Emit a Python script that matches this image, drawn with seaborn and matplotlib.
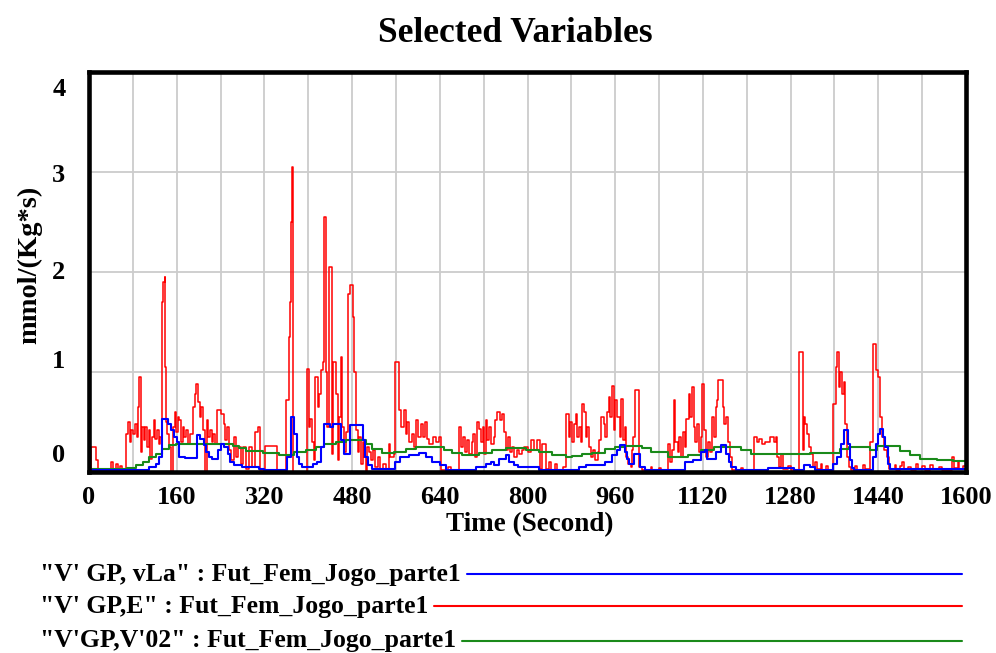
import numpy as np
import pandas as pd
import seaborn as sns
import matplotlib
matplotlib.use("Agg")
import matplotlib.pyplot as plt
from matplotlib.lines import Line2D
from matplotlib.transforms import ScaledTranslation

# ---------------- data (step series, time in seconds) ----------------
red_t = [0, 3, 13, 17, 40, 43, 50, 53, 57, 60, 67, 71, 74, 77, 81, 84, 87, 89, 92, 94,
         97, 100, 103, 106, 109, 112, 115, 118, 121, 124, 127, 130, 133, 135, 138, 139, 141, 143, 146, 149,
         153, 156, 159, 162, 165, 168, 171, 174, 177, 181, 185, 189, 193, 196, 199, 202, 205, 208, 211, 215,
         218, 221, 224, 227, 230, 234, 241, 246, 249, 252, 255, 259, 264, 268, 272, 277, 281, 286, 292, 297,
         303, 308, 312, 322, 343, 359, 364, 366, 368, 371, 373, 398, 401, 404, 407, 410, 413, 417, 420, 423,
         426, 428, 432, 434, 437, 443, 446, 450, 454, 457, 459, 461, 465, 468, 472, 476, 481, 484, 487, 490,
         493, 496, 499, 502, 505, 508, 511, 514, 518, 522, 527, 531, 537, 542, 547, 550, 556, 559, 566, 570,
         574, 578, 581, 584, 589, 593, 597, 601, 605, 609, 613, 617, 621, 627, 633, 639, 642, 655, 660, 675,
         678, 682, 686, 690, 694, 698, 701, 704, 707, 711, 715, 718, 721, 724, 727, 730, 734, 738, 741, 744,
         749, 753, 757, 760, 764, 768, 772, 776, 780, 785, 790, 794, 800, 806, 812, 818, 822, 827, 834, 840,
         843, 850, 853, 865, 871, 875, 878, 882, 885, 888, 891, 894, 897, 900, 903, 906, 909, 912, 916, 920,
         924, 928, 931, 935, 939, 942, 945, 948, 951, 954, 957, 960, 964, 968, 971, 974, 977, 980, 984, 988,
         990, 993, 997, 1004, 1008, 1025, 1028, 1040, 1043, 1056, 1060, 1064, 1067, 1070, 1074, 1077, 1080, 1083, 1087, 1090,
         1094, 1097, 1100, 1103, 1106, 1110, 1113, 1116, 1119, 1122, 1126, 1129, 1133, 1136, 1140, 1143, 1146, 1148, 1156, 1159,
         1163, 1166, 1170, 1174, 1190, 1193, 1214, 1218, 1222, 1228, 1234, 1242, 1250, 1253, 1256, 1258, 1262, 1266, 1276, 1280,
         1295, 1302, 1304, 1307, 1310, 1314, 1317, 1320, 1325, 1328, 1335, 1338, 1345, 1348, 1358, 1362, 1365, 1368, 1371, 1374,
         1377, 1380, 1383, 1386, 1390, 1398, 1402, 1412, 1415, 1425, 1430, 1436, 1440, 1444, 1447, 1450, 1456, 1460, 1470, 1473,
         1480, 1484, 1487, 1495, 1500, 1508, 1512, 1520, 1526, 1535, 1540, 1550, 1556, 1575, 1578, 1585, 1588, 1595, 1600]
red_v = [0.0, 0.25, 0.12, 0.02, 0.1, 0.03, 0.08, 0.02, 0.06, 0.03, 0.38, 0.5, 0.3, 0.42, 0.38, 0.48, 0.35, 0.65, 0.95, 0.2,
         0.45, 0.32, 0.45, 0.25, 0.42, 0.13, 0.35, 0.52, 0.33, 0.42, 0.28, 0.35, 1.7, 1.9, 1.95, 1.05, 0.5, 0.38, 0.25, 0.0,
         0.45, 0.6, 0.4, 0.55, 0.52, 0.3, 0.45, 0.35, 0.42, 0.28, 0.38, 0.65, 0.78, 0.88, 0.7, 0.55, 0.65, 0.42, 0.0, 0.52,
         0.35, 0.42, 0.3, 0.38, 0.28, 0.62, 0.58, 0.48, 0.32, 0.45, 0.22, 0.12, 0.35, 0.15, 0.25, 0.08, 0.25, 0.03, 0.25, 0.05,
         0.4, 0.45, 0.02, 0.26, 0.0, 0.72, 1.35, 1.7, 2.5, 3.05, 0.0, 1.03, 0.45, 0.53, 0.3, 0.12, 0.95, 0.65, 0.78, 1.02,
         1.1, 2.55, 1.0, 0.45, 2.05, 0.18, 1.1, 0.78, 0.12, 0.55, 1.15, 0.45, 0.2, 0.4, 1.78, 1.87, 1.55, 1.0, 0.42, 0.2,
         0.35, 0.08, 0.3, 0.15, 0.0, 0.25, 0.2, 0.12, 0.22, 0.05, 0.15, 0.03, 0.08, 0.03, 0.28, 0.15, 0.18, 1.1, 0.62, 0.45,
         0.62, 0.38, 0.5, 0.3, 0.38, 0.25, 0.52, 0.35, 0.48, 0.35, 0.5, 0.33, 0.28, 0.35, 0.3, 0.35, 0.02, 0.05, 0.02, 0.45,
         0.25, 0.35, 0.2, 0.32, 0.18, 0.3, 0.38, 0.15, 0.5, 0.43, 0.3, 0.45, 0.18, 0.52, 0.32, 0.45, 0.28, 0.35, 0.52, 0.6,
         0.52, 0.58, 0.4, 0.22, 0.35, 0.2, 0.25, 0.15, 0.22, 0.18, 0.22, 0.25, 0.2, 0.32, 0.22, 0.32, 0.03, 0.28, 0.03, 0.1,
         0.02, 0.08, 0.02, 0.05, 0.58, 0.35, 0.5, 0.3, 0.48, 0.58, 0.35, 0.45, 0.3, 0.68, 0.6, 0.35, 0.45, 0.25, 0.15, 0.22,
         0.12, 0.2, 0.32, 0.55, 0.48, 0.35, 0.6, 0.75, 0.55, 0.86, 0.42, 0.72, 0.55, 0.35, 0.73, 0.32, 0.45, 0.15, 0.08, 0.05,
         0.22, 0.35, 0.82, 0.05, 0.02, 0.05, 0.02, 0.04, 0.02, 0.28, 0.1, 0.22, 0.72, 0.3, 0.2, 0.35, 0.15, 0.4, 0.25, 0.53,
         0.78, 0.55, 0.85, 0.45, 0.3, 0.48, 0.2, 0.35, 0.88, 0.42, 0.15, 0.3, 0.2, 0.55, 0.35, 0.65, 0.72, 0.92, 0.65, 0.48,
         0.55, 0.3, 0.15, 0.02, 0.04, 0.02, 0.35, 0.3, 0.33, 0.28, 0.3, 0.35, 0.3, 0.35, 0.15, 0.05, 0.18, 0.03, 0.06, 0.02,
         1.2, 0.22, 0.55, 0.48, 0.38, 0.25, 0.18, 0.05, 0.1, 0.03, 0.08, 0.02, 0.06, 0.02, 0.68, 1.05, 1.2, 0.85, 1.0, 0.78,
         0.9, 0.48, 0.15, 0.05, 0.02, 0.06, 0.02, 0.07, 0.03, 0.3, 1.28, 1.02, 0.95, 0.55, 0.35, 0.22, 0.15, 0.03, 0.07, 0.02,
         0.06, 0.1, 0.03, 0.05, 0.02, 0.08, 0.03, 0.06, 0.02, 0.07, 0.03, 0.05, 0.02, 0.15, 0.04, 0.1, 0.03, 0.06, 0.06]

blue_t = [0, 110, 122, 128, 133, 145, 150, 155, 160, 165, 175, 197, 203, 209, 214, 219, 225, 235, 240, 247,
          253, 258, 264, 280, 310, 320, 362, 368, 374, 380, 384, 388, 408, 416, 423, 429, 440, 445, 459, 465,
          477, 499, 504, 509, 517, 559, 568, 584, 602, 614, 626, 640, 651, 706, 724, 733, 739, 748, 760, 766,
          775, 782, 821, 894, 906, 942, 955, 963, 968, 977, 982, 986, 995, 1005, 1014, 1087, 1102, 1117, 1124, 1127,
          1144, 1153, 1162, 1167, 1171, 1181, 1238, 1287, 1304, 1316, 1325, 1358, 1365, 1372, 1378, 1384, 1388, 1392, 1396, 1431,
          1436, 1440, 1443, 1448, 1453, 1457, 1462, 1600]
blue_v = [0.02, 0.05, 0.08, 0.15, 0.53, 0.48, 0.42, 0.35, 0.3, 0.15, 0.14, 0.37, 0.33, 0.27, 0.2, 0.15, 0.13, 0.22, 0.28, 0.25,
          0.18, 0.1, 0.07, 0.05, 0.03, 0.02, 0.15, 0.55, 0.38, 0.15, 0.08, 0.05, 0.08, 0.1, 0.25, 0.48, 0.45, 0.48, 0.32, 0.18,
          0.47, 0.32, 0.15, 0.07, 0.03, 0.1, 0.15, 0.17, 0.19, 0.15, 0.1, 0.07, 0.02, 0.05, 0.08, 0.1, 0.07, 0.13, 0.17, 0.1,
          0.07, 0.05, 0.02, 0.05, 0.07, 0.1, 0.17, 0.22, 0.27, 0.2, 0.13, 0.08, 0.18, 0.05, 0.02, 0.1, 0.12, 0.2, 0.22, 0.13,
          0.2, 0.27, 0.18, 0.1, 0.05, 0.02, 0.04, 0.02, 0.07, 0.05, 0.02, 0.08, 0.15, 0.28, 0.42, 0.28, 0.12, 0.04, 0.02, 0.15,
          0.28, 0.38, 0.43, 0.35, 0.25, 0.08, 0.03, 0.03]

green_t = [0, 70, 85, 98, 110, 122, 134, 146, 158, 262, 274, 286, 317, 347, 374, 396, 414, 429, 450, 468,
           505, 517, 535, 556, 578, 596, 648, 663, 681, 712, 736, 760, 797, 821, 845, 870, 882, 900, 918, 942,
           960, 977, 1008, 1026, 1056, 1093, 1117, 1141, 1190, 1208, 1287, 1316, 1371, 1386, 1425, 1437, 1480, 1498, 1516, 1547,
           1577, 1600]
green_v = [0.03, 0.04, 0.07, 0.1, 0.15, 0.18, 0.23, 0.27, 0.28, 0.26, 0.24, 0.21, 0.19, 0.17, 0.2, 0.22, 0.25, 0.28, 0.3, 0.32,
           0.28, 0.23, 0.19, 0.2, 0.23, 0.25, 0.22, 0.19, 0.17, 0.19, 0.22, 0.24, 0.22, 0.2, 0.17, 0.15, 0.16, 0.18, 0.19, 0.23,
           0.25, 0.26, 0.24, 0.2, 0.15, 0.17, 0.22, 0.25, 0.22, 0.18, 0.18, 0.19, 0.23, 0.25, 0.22, 0.26, 0.21, 0.17, 0.13, 0.12,
           0.11, 0.11]

series_names = ['"V\' GP, vLa" : Fut_Fem_Jogo_parte1',
                '"V\' GP,E" : Fut_Fem_Jogo_parte1',
                '"V\'GP,V\'02" : Fut_Fem_Jogo_parte1']
x_ticks = [0, 160, 320, 480, 640, 800, 960, 1120, 1280, 1440, 1600]
y_ticks = [0, 1, 2, 3, 4]

# ---------------- style ----------------
sns.set_style("white")
plt.rcParams['font.family'] = ['Liberation Serif', 'DejaVu Serif']
plt.rcParams['font.weight'] = 'bold'
for k in ['text.color', 'axes.labelcolor', 'xtick.color', 'ytick.color']:
    plt.rcParams[k] = 'black'

fig = plt.figure(figsize=(9.96, 6.53), dpi=100)
W, H = 996, 653
ax_l, ax_r, ax_t, ax_b = 89, 966, 71.7, 471.7
ax = fig.add_axes([ax_l / W, 1 - ax_b / H, (ax_r - ax_l) / W, (ax_b - ax_t) / H])

df_red = pd.DataFrame({"t": red_t, "v": red_v})
df_blue = pd.DataFrame({"t": blue_t, "v": blue_v})
df_green = pd.DataFrame({"t": green_t, "v": green_v})

c_blue, c_red, c_green = "#0000ff", "#ff0000", "#1a8a1a"
sns.lineplot(data=df_red, x="t", y="v", ax=ax, color=c_red, lw=1.1,
             drawstyle="steps-post", estimator=None, zorder=3)
sns.lineplot(data=df_green, x="t", y="v", ax=ax, color=c_green, lw=1.5,
             drawstyle="steps-post", estimator=None, zorder=4)
sns.lineplot(data=df_blue, x="t", y="v", ax=ax, color=c_blue, lw=1.5,
             drawstyle="steps-post", estimator=None, zorder=5)

ax.set_xlim(0, 1600)
ax.set_ylim(0, 4)
ax.set_xticks(x_ticks)
ax.set_xticks(np.arange(80, 1600, 160), minor=True)
ax.set_yticks(y_ticks)
ax.grid(True, which="both", axis="x", color="#cccccc", lw=1.3)
ax.grid(True, which="major", axis="y", color="#cccccc", lw=1.3)
ax.set_axisbelow(True)
for s in ax.spines.values():
    s.set_visible(True)
    s.set_color("black")
    s.set_linewidth(3.3)
    s.set_zorder(10)

ax.tick_params(axis="x", which="both", length=0, pad=10, labelsize=19)
ax.tick_params(axis="y", length=0, pad=17, labelsize=19)
ax.set_xticklabels([str(v) for v in x_ticks], fontweight="bold")
ax.set_yticklabels([str(v) for v in y_ticks], fontweight="bold")
y_off_px = {0: 19, 1: 12.5, 2: 1.5, 3: -0.8, 4: -15.5}
for lab, v in zip(ax.get_yticklabels(), y_ticks):
    lab.set_transform(lab.get_transform() + ScaledTranslation(0, y_off_px[v] / 100, fig.dpi_scale_trans))

ax.set_xlabel("Time (Second)", fontsize=19.5, fontweight="bold")
ax.set_ylabel("mmol/(Kg*s)", fontsize=20.5, fontweight="bold")
ax.xaxis.set_label_coords((530 - ax_l) / (ax_r - ax_l), -(525 - ax_b) / (ax_b - ax_t))
ax.yaxis.set_label_coords(-(89 - 30) / (ax_r - ax_l), (ax_b - 265) / (ax_b - ax_t))
ax.xaxis.label.set_va("center")
ax.yaxis.label.set_va("center")

fig.text(515 / W, 1 - 33 / H, "Selected Variables", ha="center", va="center",
         fontsize=25.5, fontweight="bold")

# legend rows
rows_y = [574, 606, 641]
colors = [c_blue, c_red, c_green]
fig.canvas.draw()
renderer = fig.canvas.get_renderer()
for name, yy, col in zip(series_names, rows_y, colors):
    t = fig.text(40 / W, 1 - yy / H, name, ha="left", va="center", fontsize=18.5, fontweight="bold")
    bb = t.get_window_extent(renderer=renderer)
    x0 = (bb.x1 + 6) / W
    fig.add_artist(Line2D([x0, 962 / W], [1 - yy / H, 1 - yy / H], color=col, lw=1.5,
                          transform=fig.transFigure))

fig.savefig("out.png", dpi=100)
